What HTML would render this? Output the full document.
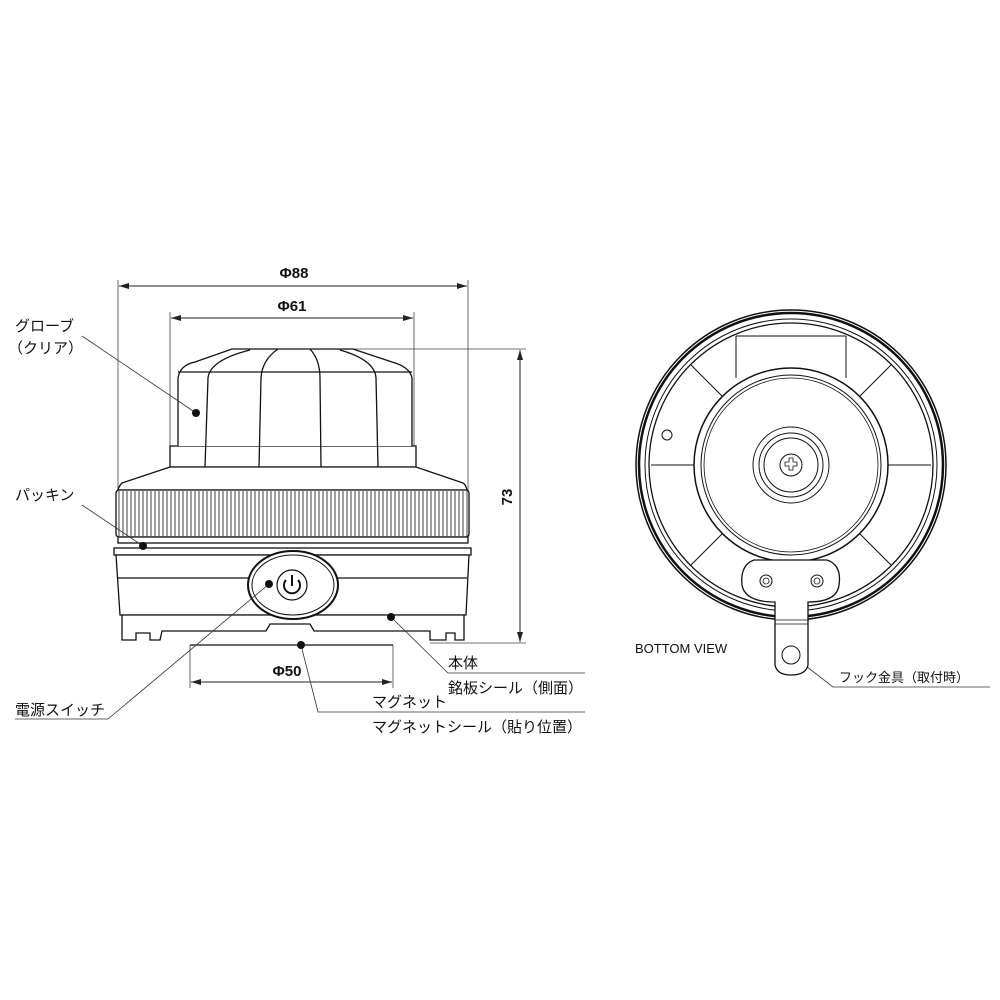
<!DOCTYPE html>
<html><head><meta charset="utf-8"><style>
html,body{margin:0;padding:0;background:#fff;}
svg{display:block;}
text{font-family:"Liberation Sans","Noto Sans CJK JP",sans-serif;fill:#111;}
</style></head><body>
<svg width="1000" height="1000" viewBox="0 0 1000 1000" xmlns="http://www.w3.org/2000/svg">
<defs>
<marker id="ar" markerWidth="10" markerHeight="6" refX="10" refY="3" orient="auto-start-reverse" markerUnits="userSpaceOnUse"><path d="M0,0 L10,3 L0,6 z" fill="#222"/></marker>
</defs>
<g stroke="#444" stroke-width="0.8" fill="none">
<line x1="118" y1="280" x2="118" y2="540"/>
<line x1="468" y1="280" x2="468" y2="540"/>
<line x1="170" y1="312" x2="170" y2="448"/>
<line x1="414" y1="312" x2="414" y2="448"/>
<line x1="350" y1="349" x2="526" y2="349"/>
<line x1="430" y1="643" x2="526" y2="643"/>
<line x1="190" y1="645" x2="190" y2="688"/>
<line x1="393" y1="645" x2="393" y2="688"/>
</g>
<g stroke="#222" stroke-width="1" fill="none">
<line x1="119" y1="286" x2="467" y2="286" marker-start="url(#ar)" marker-end="url(#ar)"/>
<line x1="171" y1="318" x2="413" y2="318" marker-start="url(#ar)" marker-end="url(#ar)"/>
<line x1="520" y1="350" x2="520" y2="642" marker-start="url(#ar)" marker-end="url(#ar)"/>
<line x1="191" y1="682" x2="392" y2="682" marker-start="url(#ar)" marker-end="url(#ar)"/>
</g>
<text x="294" y="278" font-size="15" font-weight="bold" text-anchor="middle">Φ88</text>
<text x="292" y="311" font-size="15" font-weight="bold" text-anchor="middle">Φ61</text>
<text x="287" y="676" font-size="15" font-weight="bold" text-anchor="middle">Φ50</text>
<text transform="translate(512,497) rotate(-90)" font-size="15" font-weight="bold" text-anchor="middle">73</text>

<g stroke="#111" stroke-width="1.3" fill="#fff">
<path d="M170,467 L170,446 L416,446 L416,467 Z"/>
<path d="M178,446 L178,378 Q180,365 195,362 L232,349 L353,349 L392,362 Q410,367 412,378 L412,446"/>
<line x1="178" y1="372" x2="412" y2="372" fill="none"/>
<path d="M250,350 Q210,360 208,378 L205,467" fill="none"/>
<path d="M278,349 Q262,360 261,378 L259,467" fill="none"/>
<path d="M310,349 Q320,360 320,378 L321,467" fill="none"/>
<path d="M340,350 Q375,360 376,378 L378,467" fill="none"/>
<path d="M170,467 L122,483 Q119,486 118,490 L467,490 Q466,485 463,483 L416,467 Z"/>
<rect x="116" y="490" width="353" height="47" rx="3"/>
<rect x="118" y="537" width="350" height="6"/>
<rect x="114" y="548" width="357" height="7"/>
<path d="M116,555 L469,555 L466,615 L120,615 Z"/>
<line x1="118" y1="578" x2="467" y2="578"/>
<path d="M122,615 L122,640 L136,640 L136,633 L150,633 L150,640 L160,640 L162,631 L266,631 L270,624 L310,624 L314,631 L430,631 L430,640 L446,640 L446,633 L455,633 L455,640 L464,640 L464,615 Z"/>
<line x1="190" y1="645" x2="393" y2="645"/>
</g>
<g stroke="#111" stroke-width="0.8">
<path d="M119,491 V536 M123,491 V536 M127,491 V536 M131,491 V536 M135,491 V536 M139,491 V536 M143,491 V536 M147,491 V536 M151,491 V536 M155,491 V536 M159,491 V536 M163,491 V536 M167,491 V536 M171,491 V536 M175,491 V536 M179,491 V536 M183,491 V536 M187,491 V536 M191,491 V536 M195,491 V536 M199,491 V536 M203,491 V536 M207,491 V536 M211,491 V536 M215,491 V536 M219,491 V536 M223,491 V536 M227,491 V536 M231,491 V536 M235,491 V536 M239,491 V536 M243,491 V536 M247,491 V536 M251,491 V536 M255,491 V536 M259,491 V536 M263,491 V536 M267,491 V536 M271,491 V536 M275,491 V536 M279,491 V536 M283,491 V536 M287,491 V536 M291,491 V536 M295,491 V536 M299,491 V536 M303,491 V536 M307,491 V536 M311,491 V536 M315,491 V536 M319,491 V536 M323,491 V536 M327,491 V536 M331,491 V536 M335,491 V536 M339,491 V536 M343,491 V536 M347,491 V536 M351,491 V536 M355,491 V536 M359,491 V536 M363,491 V536 M367,491 V536 M371,491 V536 M375,491 V536 M379,491 V536 M383,491 V536 M387,491 V536 M391,491 V536 M395,491 V536 M399,491 V536 M403,491 V536 M407,491 V536 M411,491 V536 M415,491 V536 M419,491 V536 M423,491 V536 M427,491 V536 M431,491 V536 M435,491 V536 M439,491 V536 M443,491 V536 M447,491 V536 M451,491 V536 M455,491 V536 M459,491 V536 M463,491 V536 M467,491 V536"/>
</g>
<ellipse cx="293" cy="585" rx="45" ry="34" fill="#fff" stroke="#111" stroke-width="2"/>
<ellipse cx="293" cy="585" rx="41" ry="30" fill="none" stroke="#111" stroke-width="1"/>
<circle cx="292" cy="585" r="15" fill="none" stroke="#111" stroke-width="1.2"/>
<path d="M286,580 A8,8 0 1 0 298,580" fill="none" stroke="#111" stroke-width="2"/>
<line x1="292" y1="575" x2="292" y2="586" stroke="#111" stroke-width="2"/>

<g stroke="#333" stroke-width="0.8" fill="none">
<polyline points="82,336 196,413"/>
<polyline points="82,505 143,546"/>
<polyline points="15,719 108,719 269,584"/>
<polyline points="391,617 448,673 585,673"/>
<polyline points="301,645 318,712 585,712"/>
<polyline points="802,663 833,687 990,687"/>
</g>
<g fill="#111">
<circle cx="196" cy="413" r="4"/>
<circle cx="143" cy="546" r="4"/>
<circle cx="269" cy="584" r="4"/>
<circle cx="391" cy="617" r="4"/>
<circle cx="301" cy="645" r="4"/>
</g>
<g font-size="15">
<text x="15" y="331">グローブ</text>
<text x="8" y="353">（クリア）</text>
<text x="15" y="500">パッキン</text>
<text x="15" y="715">電源スイッチ</text>
<text x="448" y="668">本体</text>
<text x="448" y="693">銘板シール（側面）</text>
<text x="372" y="707">マグネット</text>
<text x="372" y="732">マグネットシール（貼り位置）</text>
<text x="839" y="682" font-size="13">フック金具（取付時）</text>
<text x="635" y="653" font-size="13">BOTTOM VIEW</text>
</g>

<g stroke="#111" fill="none">
<circle cx="791" cy="465" r="155" stroke-width="1.5"/>
<circle cx="791" cy="465" r="152" stroke-width="2.5"/>
<circle cx="791" cy="465" r="146" stroke-width="1"/>
<circle cx="791" cy="465" r="142" stroke-width="1.3"/>
<path d="M736,336 V378 M846,336 V378 M736,336 H846" stroke-width="1"/>
<path d="M722,396 L691,365 M860,396 L891,365 M722,534 L691,565 M860,534 L891,565 M694,465 H651 M888,465 H931" stroke-width="1"/>
<circle cx="791" cy="465" r="97" stroke-width="1.5" fill="#fff"/>
<circle cx="791" cy="465" r="90" stroke-width="1"/>
<circle cx="791" cy="465" r="87" stroke-width="0.8"/>
<circle cx="791" cy="465" r="38" stroke-width="1"/>
<circle cx="791" cy="465" r="32" stroke-width="1"/>
<circle cx="791" cy="465" r="27" stroke-width="1"/>
<circle cx="791" cy="465" r="11" stroke-width="1"/>
<path d="M785,462 h4 v-4 h4 v4 h4 v4 h-4 v4 h-4 v-4 h-4 z" stroke-width="0.8"/>
<circle cx="667" cy="435" r="5" stroke-width="1"/>
<path d="M754,560 Q740,565 742,585 Q745,602 775,602 L775,665 Q777,675 791,675 Q806,675 808,665 L808,602 Q837,602 839,585 Q842,565 827,560 Z" fill="#fff" stroke-width="1.3"/>
<line x1="775" y1="620" x2="808" y2="620" stroke-width="0.8"/>
<line x1="775" y1="624" x2="808" y2="624" stroke-width="0.8"/>
<circle cx="791" cy="655" r="9" stroke-width="1"/>
<circle cx="766" cy="581" r="6" stroke-width="1"/>
<circle cx="817" cy="581" r="6" stroke-width="1"/>
<circle cx="766" cy="581" r="3" stroke-width="0.8"/>
<circle cx="817" cy="581" r="3" stroke-width="0.8"/>
</g>
</svg>
</body></html>
